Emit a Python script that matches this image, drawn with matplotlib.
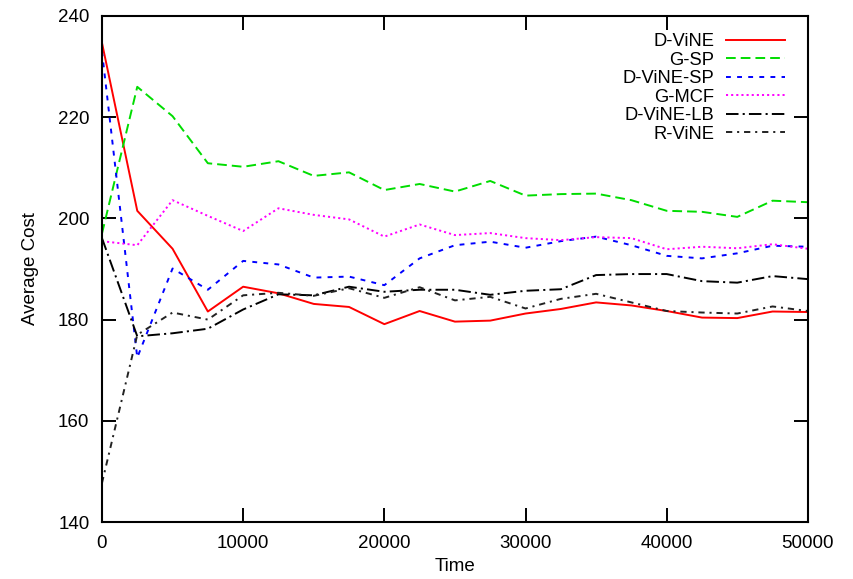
import matplotlib
matplotlib.use('Agg')
import matplotlib.pyplot as plt
import numpy as np

plt.rcParams['font.family'] = ['Liberation Sans', 'DejaVu Sans']
plt.rcParams['lines.scale_dashes'] = False

# time steps
t = np.arange(0, 50001, 2500)

d_vine = [234.7, 201.5, 194.0, 181.6, 186.5, 185.2, 183.1, 182.5, 179.1, 181.7, 179.6,
          179.8, 181.2, 182.1, 183.4, 182.8, 181.7, 180.4, 180.3, 181.6, 181.5]
g_sp = [197.0, 226.0, 220.2, 210.9, 210.2, 211.3, 208.4, 209.1, 205.6, 206.8, 205.3,
        207.4, 204.5, 204.8, 204.9, 203.6, 201.5, 201.3, 200.3, 203.5, 203.2]
d_vine_sp = [233.0, 172.5, 190.1, 185.9, 191.6, 190.9, 188.3, 188.5, 186.8, 192.1, 194.7,
             195.4, 194.2, 195.5, 196.4, 194.7, 192.6, 192.1, 193.1, 194.6, 194.4]
g_mcf = [195.5, 194.7, 203.6, 200.5, 197.5, 202.0, 200.7, 199.8, 196.4, 198.8, 196.7,
         197.1, 196.1, 195.7, 196.3, 196.1, 193.9, 194.4, 194.1, 194.9, 194.0]
d_vine_lb = [196.1, 176.7, 177.3, 178.2, 182.0, 185.0, 184.8, 186.5, 185.5, 185.9, 185.9,
             184.9, 185.7, 186.0, 188.8, 189.0, 189.0, 187.6, 187.3, 188.6, 188.0]
r_vine = [147.7, 177.0, 181.4, 180.0, 184.8, 185.3, 184.7, 186.2, 184.3, 186.4, 183.8,
          184.5, 182.2, 184.1, 185.1, 183.4, 181.7, 181.4, 181.2, 182.6, 181.7]

fig = plt.figure(figsize=(8.54, 5.79), dpi=100)
ax = fig.add_axes([0.1194, 0.0984, 0.8266, 0.874])

ax.plot(t, d_vine, color='#ff0000', lw=1.4, label='D-ViNE')
ax.plot(t, g_sp, color='#00dd00', lw=1.4, dashes=(7, 3.6), label='G-SP')
ax.plot(t, d_vine_sp, color='#0000ff', lw=1.4, dashes=(3.5, 4.5), label='D-ViNE-SP')
ax.plot(t, g_mcf, color='#ff00ff', lw=1.4, dashes=(1.5, 2.2), label='G-MCF')
ax.plot(t, d_vine_lb, color='black', lw=1.4, dashes=(9, 3, 1.5, 3), label='D-ViNE-LB')
ax.plot(t, r_vine, color='#222222', lw=1.4, dashes=(4.5, 3.5, 1.5, 3.5), label='R-ViNE')

ax.set_xlim(0, 50000)
ax.set_ylim(140, 240)
ax.set_xticks(np.arange(0, 50001, 10000))
ax.set_yticks(np.arange(140, 241, 20))
ax.tick_params(direction='in', length=10, width=1.4, top=True, right=True,
               labelsize=13.5, pad=9)
for s in ax.spines.values():
    s.set_linewidth(1.5)

ax.set_xlabel('Time', fontsize=13.5, labelpad=5)
ax.set_ylabel('Average Cost', fontsize=13.5, labelpad=14)

ax.legend(loc='upper right', bbox_to_anchor=(0.967, 0.966), frameon=False,
          markerfirst=False, fontsize=13.2, handlelength=3.2, handletextpad=0.65,
          labelspacing=0.08, borderaxespad=0, borderpad=0)

fig.savefig('out.png', dpi=100)
